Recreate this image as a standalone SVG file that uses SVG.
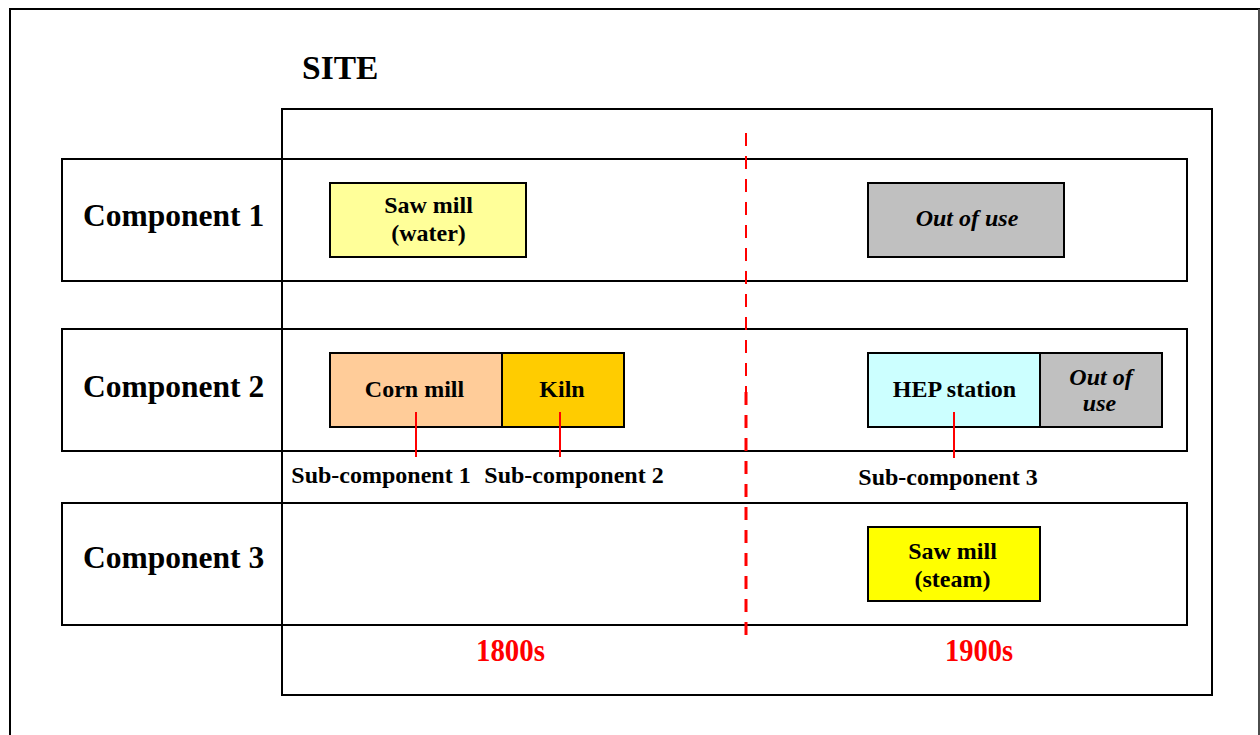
<svg xmlns="http://www.w3.org/2000/svg" width="1260" height="735" viewBox="0 0 1260 735">
  <style>
    .frame { fill: none; stroke: #000; stroke-width: 2; }
    .row { fill: #fff; stroke: #000; stroke-width: 2; }
    .box { stroke: #000; stroke-width: 2; }
    .t { font-family: "Liberation Serif", "Times New Roman", serif; font-weight: bold; fill: #000; text-anchor: middle; }
    .box-label { font-size: 24px; }
    .comp-label { font-size: 31.5px; text-anchor: start; }
    .sub-label { font-size: 24px; }
    .era { font-size: 31px; fill: #ff0000; }
    .it { font-style: italic; }
    .tick { stroke: #ff0000; stroke-width: 2; }
    .timeline { stroke: #ff0000; fill: none; stroke-dasharray: 13 10; }
  </style>

  <rect width="1260" height="735" fill="#fff"/>

  <!-- outer page frame -->
  <path d="M10,740 V9 H1259 V740" class="frame"/>
  <line x1="1259" y1="9" x2="1259" y2="740" stroke="#999" stroke-width="1"/>

  <text x="302" y="79" class="t" style="font-size:33.5px;text-anchor:start">SITE</text>

  <!-- site boundary -->
  <rect id="site" x="282" y="109" width="930" height="586" class="frame"/>

  <!-- component rows -->
  <g id="component-1">
    <rect x="62" y="159" width="1125" height="122" class="row"/>
    <line x1="282" y1="159" x2="282" y2="281" stroke="#000" stroke-width="2"/>
    <text x="83" y="226" class="t comp-label">Component 1</text>
  </g>
  <g id="component-2">
    <rect x="62" y="329" width="1125" height="122" class="row"/>
    <line x1="282" y1="329" x2="282" y2="451" stroke="#000" stroke-width="2"/>
    <text x="83" y="397" class="t comp-label">Component 2</text>
  </g>
  <g id="component-3">
    <rect x="62" y="503" width="1125" height="122" class="row"/>
    <line x1="282" y1="503" x2="282" y2="625" stroke="#000" stroke-width="2"/>
    <text x="83" y="568" class="t comp-label">Component 3</text>
  </g>

  <!-- component 1 contents -->
  <g id="saw-mill-water">
    <rect x="330" y="183" width="196" height="74" fill="#ffff99" class="box"/>
    <text x="428.5" y="213" class="t box-label">Saw mill</text>
    <text x="428.5" y="241" class="t box-label">(water)</text>
  </g>
  <g id="out-of-use-1">
    <rect x="868" y="183" width="196" height="74" fill="#c0c0c0" class="box"/>
    <text x="967" y="226" class="t box-label it">Out of use</text>
  </g>

  <!-- component 2 contents -->
  <g id="corn-mill">
    <rect x="330" y="353" width="172" height="74" fill="#ffcc99" class="box"/>
    <text x="414.5" y="397" class="t box-label">Corn mill</text>
  </g>
  <g id="kiln">
    <rect x="502" y="353" width="122" height="74" fill="#ffcc00" class="box"/>
    <text x="562" y="397" class="t box-label">Kiln</text>
  </g>
  <g id="hep-station">
    <rect x="868" y="353" width="172" height="74" fill="#ccffff" class="box"/>
    <text x="954.5" y="397" class="t box-label">HEP station</text>
  </g>
  <g id="out-of-use-2">
    <rect x="1040" y="353" width="122" height="74" fill="#c0c0c0" class="box"/>
    <text x="1101" y="385" class="t box-label it">Out of</text>
    <text x="1099.5" y="411" class="t box-label it">use</text>
  </g>

  <!-- component 3 contents -->
  <g id="saw-mill-steam">
    <rect x="868" y="527" width="172" height="74" fill="#ffff00" class="box"/>
    <text x="952.5" y="559" class="t box-label">Saw mill</text>
    <text x="952.5" y="587" class="t box-label">(steam)</text>
  </g>

  <!-- sub-component labels -->
  <text x="381" y="483" class="t sub-label">Sub-component 1</text>
  <text x="574" y="483" class="t sub-label">Sub-component 2</text>
  <text x="948" y="485" class="t sub-label">Sub-component 3</text>

  <!-- era labels -->
  <text x="510.5" y="661" class="t era" textLength="69" lengthAdjust="spacingAndGlyphs">1800s</text>
  <text x="979" y="661" class="t era" textLength="68" lengthAdjust="spacingAndGlyphs">1900s</text>

  <g id="connectors">
    <line x1="416" y1="412" x2="416" y2="457" class="tick"/>
    <line x1="560" y1="412" x2="560" y2="457" class="tick"/>
    <line x1="954" y1="412" x2="954" y2="458" class="tick"/>
    <!-- century divider -->
    <line x1="746" y1="133" x2="746" y2="392" class="timeline" stroke-width="2"/>
    <line x1="746" y1="392" x2="746" y2="636" class="timeline" stroke-width="3"/>
  </g>
</svg>
